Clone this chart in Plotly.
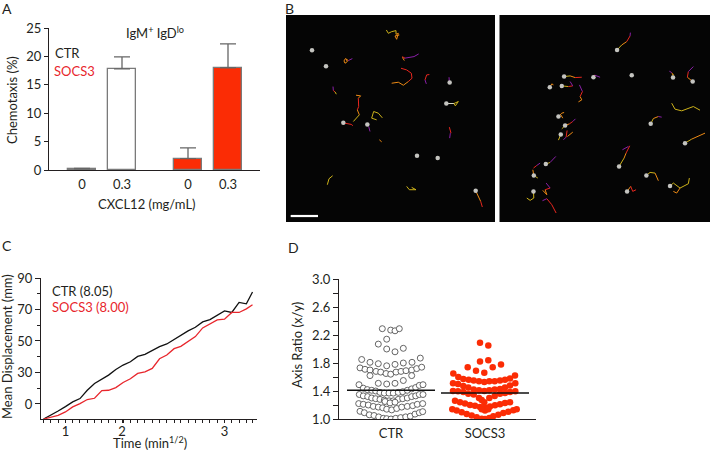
import plotly.graph_objects as go

W, H = 710, 452
INK = "#231f20"
FONT = "Lato"

# Panel A
a_pos = [0, 1, 2.65, 3.65]
a_labels = ["0", "0.3", "0", "0.3"]
a_vals = [0.2, 17.8, 2.0, 18.0]
a_err = [0.1, 2.1, 1.9, 4.2]
a_fill = ["white", "white", "#fb2c05", "#fb2c05"]

# Panel C
c_time = [0.60, 0.73, 0.86, 0.99, 1.12, 1.25, 1.38, 1.51, 1.64, 1.76, 1.89, 2.02, 2.15, 2.28, 2.41,
          2.54, 2.67, 2.80, 2.93, 3.05, 3.18, 3.31, 3.44, 3.57, 3.70, 3.83, 3.96, 4.09, 4.22, 4.33]
c_ctr = [0.4, 2.8, 5.5, 8.3, 11.3, 13.4, 18.7, 23, 25.7, 28.3, 31.9, 34.7, 36.8, 40.2, 41.5,
         44, 46.4, 48.1, 51.1, 53.4, 56.4, 58.7, 62.1, 63.6, 66.6, 69.1, 68.1, 74.5, 73.6, 81.1]
c_socs = [0.4, 1.7, 2.8, 4.9, 8.1, 10.2, 12.8, 13.6, 18.5, 18.7, 20.4, 23.6, 26, 29.4, 30.4,
          32.6, 38.7, 41.1, 45.1, 46.6, 49.8, 52.8, 58.3, 60.6, 63.4, 63.8, 68.1, 68.1, 70.4, 73]
c_ticks = [10, 30, 50, 70, 90]
c_ticktext = ["0", "30", "50", "70", "90"]
c_xticks = [0.99, 2.0, 3.83]
c_xticktext = ["1", "2", "3"]

# Panel D
d_ctr_x = [-8.7, -0.3, 4, 8.3, -4.3, -12.7, 12.3, -4.3, 4,
           -29.3, -21, -12.7, -4.3, 4, 12.3, 21, 29.3,
           -31, -26, -21, -15, -10.3, -5, -0.3, 5, 10, 15, 20.7, 25.7, 30.7,
           -21, 20.7, -12.7, -4.3, 4, 12.3,
           -32, -27.7, -23.7, -19.3, -15.3, -11, -6.7, -2, 2.3, 7.3, 11.7, 16.3, 20.7, 24.7, 28.3, 32,
           -31.7, -27.7, -23.3, -19.3, -15.3, -11, -6.7, -2, 2.3, 7.3, 11.7, 16.3, 20.7, 24.7, 28.3, 32,
           -6, -1, 4,
           -32.3, -27.7, -22.7, -17.7, -12.7, -8.3, -4.3, 0.7, 5.7, 10.7, 16.3, 21.7, 26.3, 31.7,
           -31, -26.7, -21.7, -17, -12.3, -7.7, -4.3, 0, 4.7, 9.7, 14.7, 19.3, 24, 28.3, 31.7]
d_ctr_y = [2.29, 2.27, 2.26, 2.29, 2.14, 2.07, 2.01, 2.00, 1.96,
           1.85, 1.81, 1.79, 1.76, 1.78, 1.80, 1.81, 1.87,
           1.73, 1.71, 1.70, 1.68, 1.67, 1.65, 1.64, 1.67, 1.68, 1.69, 1.70, 1.72, 1.74,
           1.62, 1.62, 1.51, 1.50, 1.51, 1.55,
           1.49, 1.44, 1.42, 1.41, 1.40, 1.38, 1.37, 1.37, 1.37, 1.38, 1.39, 1.41, 1.43, 1.45, 1.48, 1.49,
           1.35, 1.33, 1.32, 1.30, 1.29, 1.28, 1.27, 1.26, 1.26, 1.28, 1.29, 1.30, 1.32, 1.33, 1.35, 1.35,
           1.25, 1.23, 1.24,
           1.22, 1.21, 1.20, 1.18, 1.17, 1.16, 1.14, 1.13, 1.15, 1.17, 1.18, 1.19, 1.21, 1.22,
           1.11, 1.09, 1.06, 1.05, 1.03, 1.01, 1.005, 1.0, 1.01, 1.02, 1.03, 1.04, 1.07, 1.09, 1.105]
d_socs_x = [-5, 3.3, -5, 3.3, -17.3, -9, -0.7, 7.7, 16,
            -31.7, -26.7, -21.7, -16.3, -11.3, -6, -0.7, 4.3, 9.7, 15, 20, 25, 30,
            -32, -27, -21.7, -16.7, -11.3, -6, -0.7, 4.3, 9.7, 15, 20, 25, 30.3,
            -32, -27, -21.7, -16.7, -11.3, -6, -3.3, -0.7, 4.3, 9.7, 15, 20, 25, 30.3,
            -30, -25, -20, -15, -10, -5, 0, 5, 10, 15, 20, 25,
            -32.7, -28.3, -23.3, -18.3, -13.3, -8.3, -3.3, 0, 4.3, 8.3, 13.3, 18.3, 23.3, 28.3, 31.7,
            0, -3.3, 3.3]
d_socs_y = [2.09, 2.05, 1.82, 1.84, 1.74, 1.69, 1.66, 1.74, 1.78,
            1.65, 1.60, 1.57, 1.56, 1.55, 1.54, 1.53, 1.54, 1.54, 1.55, 1.56, 1.58, 1.62,
            1.51, 1.50, 1.47, 1.45, 1.42, 1.41, 1.40, 1.41, 1.42, 1.43, 1.45, 1.48, 1.51,
            1.40, 1.395, 1.385, 1.36, 1.35, 1.30, 1.27, 1.24, 1.30, 1.33, 1.36, 1.37, 1.385, 1.395,
            1.26, 1.24, 1.22, 1.20, 1.19, 1.17, 1.16, 1.18, 1.195, 1.21, 1.23, 1.24,
            1.14, 1.12, 1.095, 1.07, 1.05, 1.025, 1.005, 1.0, 1.015, 1.04, 1.06, 1.085, 1.105, 1.125, 1.14,
            1.12, 1.14, 1.14]
d_ctr_mean = 1.41
d_socs_mean = 1.37
d_cat = [0, 94]
d_names = ["CTR", "SOCS3"]

# Panel B: cell tracks
Y, O, R, P, S = "#cdb21a", "#ee8a14", "#e8261e", "#8a1fa8", "#d9d9c8"
b_left_dots_x = [126, 168, 539, 529, 220, 292, 441, 503, 617]
b_left_dots_y = [151, 199, 248, 311, 369, 374, 468, 475, 573]
b_left_tracks = [
    (Y, [349, 355, 365, 378, 378], [90, 100, 95, 92, 103]),
    (O, [378, 385, 380, 375, 388], [103, 100, 118, 108, 105]),
    (O, [227, 222, 225, 232, 228, 235], [175, 183, 190, 185, 177, 182]),
    (P, [235, 247], [182, 176]),
    (O, [397, 403], [172, 182]),
    (P, [403, 420, 432, 446], [175, 172, 170, 162]),
    (R, [397, 405], [170, 175]),
    (R, [393, 410, 424, 426, 415], [205, 210, 220, 235, 245]),
    (O, [415, 400, 385, 365], [245, 256, 247, 250]),
    (P, [469, 465], [252, 240]),
    (R, [465, 470, 478], [240, 225, 224]),
    (P, [537, 538], [232, 245]),
    (S, [529, 552], [311, 311]),
    (Y, [552, 565, 556, 552], [311, 305, 318, 311]),
    (P, [189, 190], [260, 272]),
    (R, [190, 195], [272, 276]),
    (Y, [195, 199], [276, 283]),
    (O, [258, 272, 265], [286, 288, 295]),
    (R, [265, 266, 262], [295, 320, 330]),
    (O, [262, 268], [330, 345]),
    (Y, [268, 250], [345, 365]),
    (R, [220, 245, 248], [369, 374, 378]),
    (Y, [337, 325, 311, 305, 320], [354, 340, 335, 355, 360]),
    (P, [300, 296], [395, 380]),
    (R, [538, 543], [382, 400]),
    (P, [541, 539], [400, 415]),
    (O, [328, 335], [420, 426]),
    (Y, [188, 177, 172], [528, 537, 555]),
    (Y, [410, 418, 438, 425], [560, 570, 570, 563]),
    (O, [617, 628, 632], [573, 595, 605]),
    (R, [632, 637], [605, 622]),
]
b_right_dots_x = [381, 222, 310, 425, 549, 608, 179, 215, 205, 225, 212, 482, 585, 167, 131, 387, 469, 540, 130, 411]
b_right_dots_y = [150, 230, 232, 226, 233, 245, 262, 258, 350, 377, 404, 372, 430, 493, 527, 500, 527, 559, 575, 575]
b_right_tracks = [
    (Y, [381, 395], [150, 135]), (O, [395, 410], [135, 125]), (R, [410, 420], [125, 108]), (P, [420, 421], [108, 98]),
    (Y, [222, 240], [230, 228]), (O, [240, 255], [228, 233]), (R, [255, 275], [233, 232]),
    (R, [310, 314], [232, 225]), (P, [314, 330], [226, 232]),
    (Y, [549, 549], [233, 222]), (O, [549, 545], [225, 218]), (P, [545, 538], [218, 214]),
    (O, [608, 592], [245, 232]), (R, [592, 595], [232, 215]), (P, [595, 610], [215, 200]),
    (O, [179, 185, 190], [262, 252, 255]),
    (Y, [215, 235], [258, 260]), (R, [235, 248], [260, 258]), (P, [248, 240], [258, 245]),
    (P, [268, 277], [255, 275]), (R, [277, 270], [275, 290]), (O, [270, 275, 265], [290, 300, 306]),
    (Y, [545, 555, 575, 595, 610, 630], [310, 328, 333, 325, 320, 331]),
    (O, [205, 215, 222], [350, 340, 338]), (O, [212, 218], [345, 355]),
    (Y, [215, 225], [387, 377]), (O, [225, 238], [377, 372]), (R, [238, 248], [372, 365]), (P, [248, 256], [365, 357]),
    (Y, [205, 212], [421, 404]), (O, [232, 248], [410, 397]), (R, [231, 228], [392, 412]), (P, [228, 220], [412, 420]),
    (Y, [482, 490], [372, 356]), (O, [490, 505], [356, 350]), (P, [505, 515], [350, 352]),
    (Y, [585, 605], [430, 418]), (O, [605, 630, 645], [418, 408, 400]),
    (Y, [167, 180], [493, 488]), (P, [180, 197], [488, 470]),
    (Y, [131, 143], [527, 535]), (O, [131, 128], [527, 510]), (R, [130, 140], [505, 497]), (P, [140, 150], [497, 490]),
    (Y, [387, 402], [500, 475]), (O, [402, 408], [475, 460]), (R, [408, 419], [460, 438]), (P, [397, 415], [450, 440]),
    (Y, [469, 480, 495], [527, 518, 520]), (O, [495, 505], [520, 543]),
    (Y, [540, 550, 570, 595, 598], [559, 550, 565, 552, 535]), (O, [570, 560, 550], [565, 580, 575]),
    (Y, [130, 131, 120, 110], [575, 595, 602, 595]),
    (O, [158, 170, 165], [572, 585, 570]), (R, [165, 180], [570, 565]), (P, [180, 168], [565, 550]),
    (O, [411, 422], [575, 560]), (R, [422, 428, 438], [560, 575, 570]),
    (P, [157, 170], [603, 597]), (R, [170, 185, 198], [597, 615, 640]),
]
b_scale_x = [62, 144]
b_scale_y = [649, 649]


def dx(a, b):
    return [a / W, b / W]


def dy(top, bottom):
    return [1 - bottom / H, 1 - top / H]


fig = go.Figure()

# --- Panel A
fig.add_trace(go.Bar(x=a_pos, y=a_vals, width=0.68, marker=dict(color=a_fill, line=dict(color="#7a7a7a", width=1.3)),
                     error_y=dict(type="data", symmetric=False, array=a_err, arrayminus=[0] * 4,
                                  color="#666666", thickness=1.3, width=8),
                     xaxis="x", yaxis="y", showlegend=False))
# --- Panel B
for xa, ya, tracks, dots_x, dots_y in [("x2", "y2", b_left_tracks, b_left_dots_x, b_left_dots_y),
                                        ("x3", "y3", b_right_tracks, b_right_dots_x, b_right_dots_y)]:
    for color, xs, ys in tracks:
        fig.add_trace(go.Scatter(x=xs, y=ys, mode="lines", line=dict(color=color, width=1), xaxis=xa, yaxis=ya,
                                 showlegend=False))
    fig.add_trace(go.Scatter(x=dots_x, y=dots_y, mode="markers", marker=dict(color="#c4c4c0", size=4.5),
                             xaxis=xa, yaxis=ya, showlegend=False))
fig.add_trace(go.Scatter(x=b_scale_x, y=b_scale_y, mode="lines", line=dict(color="white", width=2.2),
                         xaxis="x2", yaxis="y2", showlegend=False))
# --- Panel C
fig.add_trace(go.Scatter(x=c_time, y=c_ctr, mode="lines", line=dict(color="#111111", width=1.3), xaxis="x4", yaxis="y4",
                         showlegend=False))
fig.add_trace(go.Scatter(x=c_time, y=c_socs, mode="lines", line=dict(color="#e8262c", width=1.3), xaxis="x4", yaxis="y4",
                         showlegend=False))
# --- Panel D
fig.add_trace(go.Scatter(x=d_ctr_x, y=d_ctr_y, mode="markers",
                         marker=dict(color="white", size=6, line=dict(color="#555555", width=0.9)),
                         xaxis="x5", yaxis="y5", showlegend=False))
fig.add_trace(go.Scatter(x=[d_cat[1] + v for v in d_socs_x], y=d_socs_y, mode="markers",
                         marker=dict(color="#fb2c05", size=6.5),
                         xaxis="x5", yaxis="y5", showlegend=False))
fig.add_trace(go.Scatter(x=[-44, 44], y=[d_ctr_mean] * 2, mode="lines", line=dict(color="#111111", width=1.5),
                         xaxis="x5", yaxis="y5", showlegend=False))
fig.add_trace(go.Scatter(x=[d_cat[1] - 44, d_cat[1] + 44], y=[d_socs_mean] * 2, mode="lines",
                         line=dict(color="#111111", width=1.5), xaxis="x5", yaxis="y5", showlegend=False))

tf = dict(family=FONT, size=13, color=INK)
line = dict(showline=True, linecolor=INK, linewidth=1.3, showgrid=False, zeroline=False, tickfont=tf, automargin=False)
img = dict(showline=False, showgrid=False, zeroline=False, showticklabels=False, ticks="", automargin=False)

fig.update_layout(
    width=W, height=H, margin=dict(l=0, r=0, t=0, b=0, pad=0), paper_bgcolor="white", plot_bgcolor="white",
    autosize=False, bargap=0, showlegend=False,
    xaxis=dict(domain=dx(49, 260), range=[-0.825, 4.45], anchor="y", tickvals=a_pos, ticktext=a_labels, ticks="",
               ticklabelstandoff=2, **line),
    yaxis=dict(domain=dy(28, 170), range=[0, 25], anchor="x", tickvals=[0, 5, 10, 15, 20, 25], ticks="outside",
               ticklen=4, tickwidth=1.2, tickcolor=INK, **line),
    xaxis2=dict(domain=dx(286, 495), range=[48, 675], anchor="y2", **img),
    yaxis2=dict(domain=dy(15, 222), range=[667, 45], anchor="x2", **img),
    xaxis3=dict(domain=dx(499.5, 710), range=[28, 660], anchor="y3", **img),
    yaxis3=dict(domain=dy(15, 222), range=[667, 45], anchor="x3", **img),
    xaxis4=dict(domain=dx(41, 257), range=[0.554, 4.41], anchor="y4", tickvals=c_xticks, ticktext=c_xticktext,
                ticks="outside", ticklen=3, tickwidth=1, tickcolor=INK, ticklabelstandoff=-3,
                minor=dict(tickvals=c_time, ticks="outside", ticklen=3, tickwidth=1, tickcolor=INK), **line),
    yaxis4=dict(domain=dy(278, 419), range=[0.43, 90], anchor="x4", tickvals=c_ticks, ticktext=c_ticktext,
                ticks="outside", ticklen=5, tickwidth=1.2, tickcolor=INK,
                minor=dict(tickvals=[20, 40, 60, 80], ticks="outside", ticklen=3, tickwidth=1, tickcolor=INK), **line),
    xaxis5=dict(domain=dx(339, 536), range=[-52, 145], anchor="y5", tickvals=d_cat, ticktext=d_names, ticks="",
                ticklabelstandoff=2, **line),
    yaxis5=dict(domain=dy(279, 419), range=[1.0, 3.0], anchor="x5", tickvals=[1.0, 1.4, 1.8, 2.2, 2.6, 3.0],
                tickformat=".1f", ticks="outside", ticklen=5, tickwidth=1.3, tickcolor=INK,
                minor=dict(tickvals=[1.2, 1.6, 2.0, 2.4, 2.8], ticks="outside", ticklen=5, tickwidth=1.3, tickcolor=INK),
                **line),
    shapes=[dict(type="rect", xref=f"x{i} domain", yref=f"y{i} domain", x0=0, x1=1, y0=0, y1=1,
                 fillcolor="#050505", line_width=0, layer="below") for i in (2, 3)],
)


def note(text, x, y, size=13, color=INK, rot=0, anchor="center"):
    fig.add_annotation(text=text, x=x / W, y=1 - y / H, xref="paper", yref="paper", showarrow=False, textangle=rot,
                       xanchor=anchor, yanchor="middle", font=dict(family=FONT, size=size, color=color))


note("A", 7, 8, 14)
note("B", 289, 8, 14)
note("C", 7, 245, 14)
note("D", 293, 247, 14)
note("Chemotaxis (%)", 12, 100, rot=-90)
note("CXCL12 (mg/mL)", 147, 204)
note("CTR", 53, 53, anchor="left")
note("SOCS3", 52, 71, color="#e8262c", anchor="left")
note("IgM<sup>+</sup> IgD<sup>lo</sup>", 155, 33)
note("Mean Displacement (mm)", 7, 347, rot=-90)
note("Time (min<sup>1/2</sup>)", 150, 442)
note("CTR (8.05)", 50, 291, anchor="left")
note("SOCS3 (8.00)", 50, 307, color="#e8262c", anchor="left")
note("Axis Ratio (x/y)", 297, 345, rot=-90)

fig.write_html("out.html", config={"displayModeBar": False},
               post_script="document.body.style.margin='0';document.documentElement.style.overflow='hidden';")
